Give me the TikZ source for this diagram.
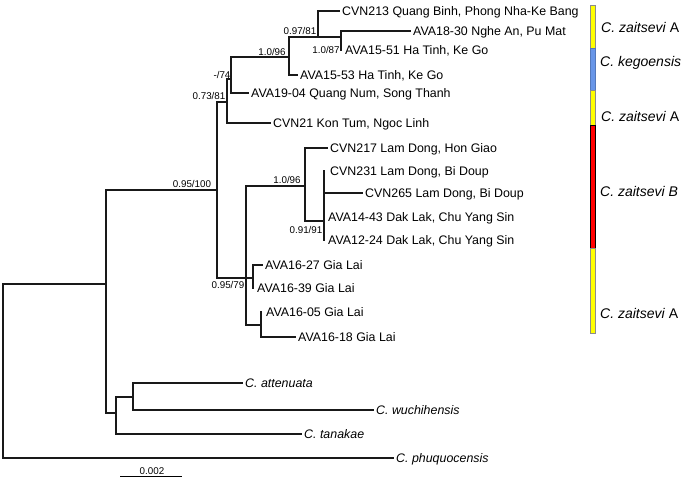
\documentclass[tikz,border=0pt]{standalone}
\usepackage{fontspec}
\setmainfont{Liberation Sans}
\newcommand\tipfont{\fontsize{12.4bp}{14bp}\selectfont}
\newcommand\supfont{\fontsize{9.8bp}{11bp}\selectfont}
\newcommand\cladefont{\fontsize{14bp}{16bp}\selectfont}
\definecolor{barblue}{RGB}{104,150,232}
\definecolor{baryellow}{RGB}{255,255,0}
\definecolor{barred}{RGB}{255,0,0}
\tikzset{
  br/.style={line width=1.1bp, black!90, line cap=rect},
  tip/.style={anchor=west, inner xsep=3bp, inner ysep=0pt, text height=8.9bp, text depth=0pt, font=\tipfont},
  sptip/.style={tip, font=\tipfont\itshape},
  supp/.style={inner sep=0pt, font=\supfont},
  clade/.style={anchor=west, inner sep=0pt, text height=10bp, text depth=0pt, font=\cladefont},
  bar/.style={line width=0.5bp},
}
\begin{document}
\begin{tikzpicture}[x=1bp, y=-1bp]
\useasboundingbox (0,0) rectangle (685,478);
% internal nodes (x, attachment y)
\coordinate (root) at (3,284);
\coordinate (nA) at (106,284);
\coordinate (nB) at (217,190);
\coordinate (nC) at (227,102);
\coordinate (nD) at (231,79);
\coordinate (nE) at (289,57);
\coordinate (nF) at (318,37);
\coordinate (nG) at (341,37);
\coordinate (nH) at (246,278);
\coordinate (nI) at (305,186);
\coordinate (nJ) at (324,221);
\coordinate (nK) at (253,278);
\coordinate (nL) at (261,325);
\coordinate (nM) at (116,413);
\coordinate (nN) at (133,397);
% tips
\node[tip] (t1) at (339,11) {CVN213 Quang Binh, Phong Nha-Ke Bang};
\node[tip] (t2) at (410,31) {AVA18-30 Nghe An, Pu Mat};
\node[tip] (t3) at (342,50) {AVA15-51 Ha Tinh, Ke Go};
\node[tip] (t4) at (297,75) {AVA15-53 Ha Tinh, Ke Go};
\node[tip] (t5) at (248,93) {AVA19-04 Quang Num, Song Thanh};
\node[tip] (t6) at (270,123) {CVN21 Kon Tum, Ngoc Linh};
\node[tip] (t7) at (327,148) {CVN217 Lam Dong, Hon Giao};
\node[tip] (t8) at (327,171) {CVN231 Lam Dong, Bi Doup};
\node[tip] (t9) at (362,193) {CVN265 Lam Dong, Bi Doup};
\node[tip] (t10) at (325,217) {AVA14-43 Dak Lak, Chu Yang Sin};
\node[tip] (t11) at (325,240) {AVA12-24 Dak Lak, Chu Yang Sin};
\node[tip] (t12) at (262,265) {AVA16-27 Gia Lai};
\node[tip] (t13) at (254,288) {AVA16-39 Gia Lai};
\node[tip] (t14) at (263,312) {AVA16-05 Gia Lai};
\node[tip] (t15) at (295,337) {AVA16-18 Gia Lai};
\node[sptip] (t16) at (242,383) {C. attenuata};
\node[sptip] (t17) at (373,410) {C. wuchihensis};
\node[sptip] (t18) at (301,434) {C. tanakae};
\node[sptip] (t19) at (393,458) {C. phuquocensis};
% branches
\draw[br] (root) |- (nA);
\draw[br] (root) |- (t19.west);
\draw[br] (nA) |- (nB);
\draw[br] (nA) |- (nM);
\draw[br] (nM) |- (nN);
\draw[br] (nM) |- (t18.west);
\draw[br] (nN) |- (t16.west);
\draw[br] (nN) |- (t17.west);
\draw[br] (nB) |- (nC);
\draw[br] (nB) |- (nH);
\draw[br] (nC) |- (nD);
\draw[br] (nC) |- (t6.west);
\draw[br] (nD) |- (nE);
\draw[br] (nD) |- (t5.west);
\draw[br] (nE) |- (nF);
\draw[br] (nE) |- (t4.west);
\draw[br] (nF) |- (t1.west);
\draw[br] (nF) |- (nG);
\draw[br] (nG) |- (t2.west);
\draw[br] (nG) -- (nG |- t3.west);
\draw[br] (nH) |- (nI);
\draw[br] (nH) |- (nK);
\draw[br] (nH) |- (nL);
\draw[br] (nI) |- (t7.west);
\draw[br] (nI) |- (nJ);
\draw[br] (nJ) -- (nJ |- t8.west);
\draw[br] (nJ) |- (t9.west);
\draw[br] (nJ) -- (nJ |- t11.west);
\draw[br] (nK) |- (t12.west);
\draw[br] (nK) -- (nK |- t13.west);
\draw[br] (nL) -- (nL |- t14.west);
\draw[br] (nL) |- (t15.west);
% support values
\node[supp] (s1) at (300,31) {0.97/81};
\node[supp] (s2) at (326,50) {1.0/87};
\node[supp] (s3) at (272,52) {1.0/96};
\node[supp] (s4) at (222,75) {-/74};
\node[supp] (s5) at (209,96) {0.73/81};
\node[supp] (s6) at (192,184) {0.95/100};
\node[supp] (s7) at (287,180) {1.0/96};
\node[supp] (s8) at (306,230) {0.91/91};
\node[supp] (s9) at (228,285) {0.95/79};
% scale bar
\coordinate (sb1) at (120,476.5);
\coordinate (sb2) at (182,476.5);
\draw[line width=1bp] (sb1) -- (sb2);
\node[supp] (sbl) at (152,471) {0.002};
% clade bars
\draw[bar, draw=black!45, fill=baryellow] (590,5) rectangle (595,48);
\draw[bar, draw=barblue!80!black, fill=barblue] (590,48) rectangle (595,90);
\draw[bar, draw=black!45, fill=baryellow] (590,90) rectangle (595,125);
\draw[line width=0.8bp, draw=black, fill=barred] (590,125) rectangle (595,248);
\draw[bar, draw=black!45, fill=baryellow] (590,248) rectangle (595,333);
% clade labels
\node[clade] (c1) at (601,28) {\textit{C. zaitsevi} A};
\node[clade] (c2) at (600,62) {\textit{C. kegoensis}};
\node[clade] (c3) at (601,117) {\textit{C. zaitsevi} A};
\node[clade] (c4) at (600,192) {\textit{C. zaitsevi B}};
\node[clade] (c5) at (600,313) {\textit{C. zaitsevi} A};
\end{tikzpicture}
\end{document}
